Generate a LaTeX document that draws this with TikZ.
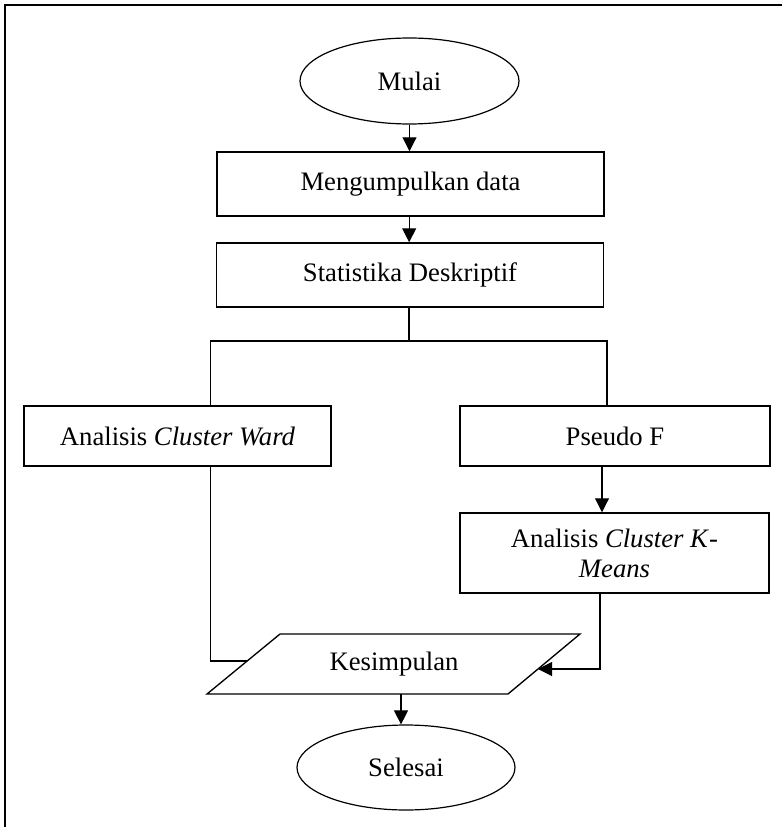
\documentclass[tikz,border=0pt]{standalone}
\usepackage{fontspec}
\setmainfont{Liberation Serif}
\usetikzlibrary{shapes.geometric,arrows.meta}
\begin{document}
\begin{tikzpicture}[x=0.75pt,y=-0.75pt,
  txt/.style={font=\fontsize{20}{22.5}\selectfont, align=center},
  box/.style={txt,draw,line width=1.1pt,rectangle,inner sep=0pt},
  term/.style={txt,draw,line width=0.9pt,ellipse,inner sep=0pt},
  conn/.style={line width=0.8pt},
  arr/.style={conn,-{Triangle[length=10.5pt,width=10.5pt]}}]
\useasboundingbox (0,0) rectangle (782,827);
\draw[line width=1.3pt] (5,827) -- (5,5) -- (782,5);

\node[term, minimum width=164.25pt, minimum height=64.5pt] (mulai) at (409.5,81) {Mulai};
\node[box, minimum width=290.25pt, minimum height=48pt] (data) at (410.5,184) {Mengumpulkan data};
\node[box, minimum width=290.25pt, minimum height=48pt] (stat) at (410,275) {Statistika Deskriptif};
\node[box, minimum width=230.25pt, minimum height=45pt] (ward) at (177.5,436) {Analisis \textit{Cluster Ward}};
\node[box, minimum width=232.5pt, minimum height=45pt] (pseudo) at (615,436) {Pseudo F};
\node[box, minimum width=231.75pt, minimum height=60pt] (kmeans) at (614.5,553) {Analisis \textit{Cluster K}-\\\textit{Means}};

\draw[line width=1pt] (280,634) coordinate (kTL) -- (580,634) coordinate (kTR) -- (508,694) coordinate (kBR) -- (207,694) coordinate (kBL) -- cycle;
\node[txt] (kes) at (394,664) {Kesimpulan};
\coordinate (kL) at (247,661);
\coordinate (kR) at (538,669);
\coordinate (kB) at (401,694);

\node[term, minimum width=163.5pt, minimum height=63.75pt] (selesai) at (406,767.5) {Selesai};

\coordinate (split) at (409,341);

\draw[arr] (mulai.south) -- (mulai.south |- data.north);
\draw[arr] ([xshift=-1pt]data.south) -- ([xshift=-1pt]data.south |- stat.north);
\draw[conn] ([xshift=-0.75pt]stat.south) -- ([xshift=-0.75pt]stat.south |- split);
\draw[conn] ([xshift=24.4pt]ward.north) |- (split) -| ([xshift=-6pt]pseudo.north);
\draw[arr] ([xshift=-9.75pt]pseudo.south) -- ([xshift=-9.75pt]pseudo.south |- kmeans.north);
\draw[conn] ([xshift=24.4pt]ward.south) |- (kL);
\draw[arr] ([xshift=-10.9pt]kmeans.south) |- (kR);
\draw[arr] (kB) -- (kB |- selesai.north);
\end{tikzpicture}
\end{document}
